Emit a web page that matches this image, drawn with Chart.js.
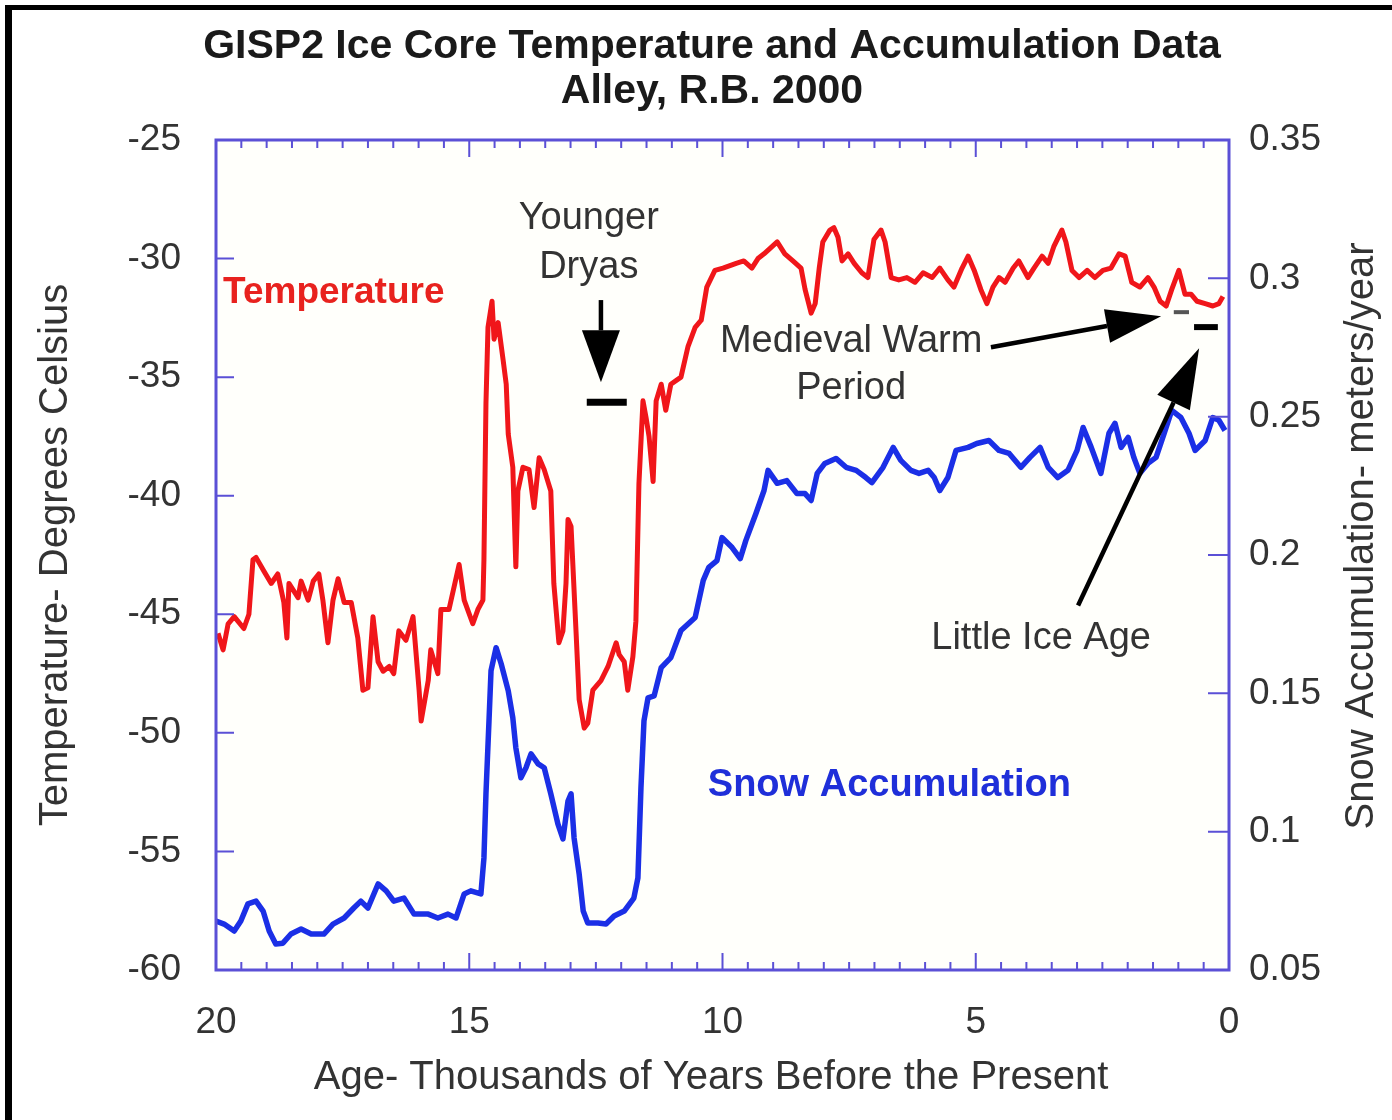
<!DOCTYPE html>
<html>
<head>
<meta charset="utf-8">
<title>GISP2 Ice Core Temperature and Accumulation Data</title>
<script src="https://cdn.jsdelivr.net/npm/chart.js@4.4.1/dist/chart.umd.min.js"></script>
<style>
  html, body { margin: 0; padding: 0; background: #fff; }
  #wrap { position: relative; width: 1392px; height: 1120px; }
</style>
</head>
<body>
<div id="wrap"><canvas id="gisp2"></canvas></div>
<script>
// --- data (age in kyr BP) ---
const titleLines = ['GISP2 Ice Core Temperature and Accumulation Data', 'Alley, R.B. 2000'];
const xTitle = 'Age- Thousands of Years Before the Present';
const yTitle = 'Temperature- Degrees Celsius';
const y1Title = 'Snow Accumulation- meters/year';

const tempAge = [19.96,19.86,19.76,19.64,19.45,19.35,19.27,19.21,19.05,18.91,
  18.78,18.66,18.60,18.56,18.38,18.32,18.18,18.08,17.97,17.89,
  17.79,17.69,17.59,17.47,17.33,17.20,17.10,17.00,16.90,16.80,
  16.70,16.58,16.49,16.39,16.25,16.11,15.99,15.95,15.81,15.76,
  15.62,15.56,15.40,15.20,15.10,14.93,14.83,14.73,14.71,14.67,
  14.63,14.55,14.51,14.43,14.33,14.27,14.23,14.14,14.08,14.04,
  13.94,13.82,13.72,13.62,13.52,13.39,13.33,13.23,13.15,13.09,
  13.05,12.99,12.89,12.83,12.73,12.66,12.56,12.40,12.26,12.10,
  12.04,11.94,11.87,11.77,11.71,11.65,11.57,11.51,11.45,11.37,
  11.31,11.21,11.12,11.02,10.82,10.68,10.54,10.42,10.31,10.15,
  9.99,9.73,9.58,9.42,9.30,9.18,8.92,8.77,8.61,8.45,
  8.37,8.25,8.17,8.09,8.02,7.88,7.80,7.72,7.64,7.52,
  7.40,7.25,7.13,7.01,6.87,6.79,6.67,6.52,6.36,6.20,
  6.04,5.86,5.71,5.55,5.43,5.27,5.15,5.03,4.90,4.78,
  4.66,4.54,4.42,4.26,4.15,3.97,3.85,3.69,3.57,3.46,
  3.30,3.22,3.10,2.96,2.80,2.65,2.49,2.33,2.17,2.05,
  1.92,1.76,1.60,1.48,1.36,1.24,1.13,0.99,0.87,0.75,
  0.63,0.47,0.32,0.20,0.12];
const tempC = [-45.8,-46.5,-45.4,-45.1,-45.6,-45.0,-42.7,-42.6,-43.2,-43.7,
  -43.3,-44.5,-46.0,-43.7,-44.3,-43.6,-44.4,-43.6,-43.3,-44.4,
  -46.2,-44.4,-43.5,-44.5,-44.5,-46.0,-48.2,-48.1,-45.1,-47.0,
  -47.4,-47.2,-47.5,-45.7,-46.1,-45.1,-48.2,-49.5,-47.8,-46.5,
  -47.5,-44.8,-44.8,-42.9,-44.4,-45.4,-44.8,-44.4,-42.7,-36.1,
  -32.9,-31.8,-33.4,-32.7,-34.3,-35.3,-37.4,-38.8,-43.0,-39.8,
  -38.8,-38.9,-40.5,-38.4,-38.9,-39.8,-43.7,-46.2,-45.7,-43.7,
  -41.0,-41.3,-45.8,-48.6,-49.8,-49.6,-48.2,-47.8,-47.2,-46.2,
  -46.7,-47.0,-48.2,-46.8,-45.3,-39.5,-36.0,-36.7,-37.5,-39.4,
  -36.0,-35.3,-36.4,-35.3,-35.0,-33.7,-32.9,-32.6,-31.2,-30.5,
  -30.4,-30.2,-30.1,-30.4,-30.0,-29.8,-29.3,-29.8,-30.1,-30.4,
  -31.3,-32.3,-31.9,-30.4,-29.3,-28.8,-28.7,-29.1,-30.1,-29.8,
  -30.2,-30.6,-30.8,-29.2,-28.8,-29.3,-30.8,-30.9,-30.8,-31.0,
  -30.6,-30.8,-30.4,-30.9,-31.2,-30.4,-29.9,-30.5,-31.3,-31.9,
  -31.2,-30.8,-31.0,-30.4,-30.1,-30.8,-30.4,-29.9,-30.2,-29.5,
  -28.8,-29.3,-30.5,-30.8,-30.5,-30.8,-30.5,-30.4,-29.8,-29.9,
  -31.0,-31.2,-30.8,-31.2,-31.8,-32.0,-31.3,-30.5,-31.5,-31.5,
  -31.8,-31.9,-32.0,-31.9,-31.6];

const accAge = [20.00,19.84,19.64,19.51,19.37,19.21,19.07,18.95,18.82,18.68,
  18.52,18.32,18.12,17.87,17.69,17.47,17.28,17.14,17.00,16.80,
  16.64,16.49,16.29,16.09,15.81,15.62,15.42,15.26,15.10,14.97,
  14.77,14.71,14.67,14.61,14.57,14.47,14.37,14.23,14.14,14.08,
  13.98,13.88,13.78,13.64,13.52,13.39,13.25,13.15,13.05,12.99,
  12.93,12.83,12.75,12.66,12.46,12.30,12.14,11.94,11.75,11.67,
  11.61,11.55,11.47,11.35,11.21,11.02,10.82,10.54,10.38,10.27,
  10.11,10.01,9.81,9.65,9.54,9.34,9.18,9.10,8.92,8.73,
  8.53,8.37,8.25,8.13,7.98,7.76,7.56,7.36,7.17,7.05,
  6.83,6.63,6.48,6.28,6.12,5.94,5.82,5.71,5.55,5.39,
  5.15,4.98,4.74,4.54,4.34,4.11,3.93,3.73,3.57,3.38,
  3.18,3.00,2.88,2.72,2.53,2.37,2.25,2.13,1.99,1.88,
  1.76,1.60,1.44,1.28,1.13,0.95,0.79,0.67,0.47,0.32,
  0.20,0.08];
const accRate = [0.0677,0.0666,0.0641,0.0677,0.0739,0.0749,0.0713,0.0641,0.0594,0.0597,
  0.0630,0.0648,0.0630,0.0630,0.0666,0.0688,0.0724,0.0749,0.0724,0.0811,
  0.0786,0.0749,0.0760,0.0702,0.0702,0.0688,0.0702,0.0688,0.0775,0.0786,
  0.0775,0.0905,0.1137,0.1401,0.1582,0.1665,0.1607,0.1509,0.1412,0.1303,
  0.1195,0.1231,0.1281,0.1245,0.1231,0.1137,0.1028,0.0974,0.1111,0.1137,
  0.0977,0.0847,0.0713,0.0670,0.0670,0.0666,0.0695,0.0713,0.0760,0.0833,
  0.1158,0.1401,0.1484,0.1491,0.1593,0.1629,0.1727,0.1774,0.1908,0.1955,
  0.1980,0.2063,0.2027,0.1987,0.2052,0.2150,0.2233,0.2306,0.2259,0.2269,
  0.2222,0.2222,0.2197,0.2295,0.2331,0.2349,0.2317,0.2306,0.2280,0.2262,
  0.2317,0.2389,0.2342,0.2306,0.2295,0.2306,0.2280,0.2233,0.2280,0.2378,
  0.2389,0.2403,0.2414,0.2378,0.2367,0.2317,0.2353,0.2389,0.2317,0.2280,
  0.2306,0.2378,0.2461,0.2389,0.2295,0.2440,0.2476,0.2389,0.2425,0.2353,
  0.2295,0.2331,0.2353,0.2440,0.2523,0.2497,0.2440,0.2378,0.2414,0.2497,
  0.2487,0.2450];

const ageTicks = [0, 5, 10, 15, 20];
const tempTicks = [-60, -55, -50, -45, -40, -35, -30, -25];
const accTicks = [0.05, 0.1, 0.15, 0.2, 0.25, 0.3, 0.35];

// --- styling ---
const FONT = '"Liberation Sans", Arial, Helvetica, sans-serif';
const TEXT = '#333';
const AXIS_BLUE = '#5b50d6';
const RED = '#f0161a';
const BLUE = '#1b2fe6';

function arrow(ctx, x0, y0, x1, y1, headLen, headW) {
  const ang = Math.atan2(y1 - y0, x1 - x0);
  const bx = x1 - headLen * Math.cos(ang), by = y1 - headLen * Math.sin(ang);
  ctx.beginPath();
  ctx.moveTo(x0, y0);
  ctx.lineTo(bx, by);
  ctx.stroke();
  const nx = -Math.sin(ang) * headW / 2, ny = Math.cos(ang) * headW / 2;
  ctx.beginPath();
  ctx.moveTo(x1, y1);
  ctx.lineTo(bx + nx, by + ny);
  ctx.lineTo(bx - nx, by - ny);
  ctx.closePath();
  ctx.fill();
}

// plot background, outer frame, inward ticks
const frameTicks = {
  id: 'frameTicks',
  beforeDraw(chart) {
    const { ctx, chartArea: a } = chart;
    ctx.save();
    ctx.fillStyle = '#fffffb';
    ctx.fillRect(a.left, a.top, a.right - a.left, a.bottom - a.top);
    ctx.fillStyle = '#000';
    ctx.fillRect(5, 5, 7, chart.height - 5);
    ctx.fillRect(5, 5, chart.width - 5, 5);
    ctx.restore();
  },
  afterDatasetsDraw(chart) {
    const { ctx, chartArea: a, scales } = chart;
    const { x, y, y1 } = scales;
    ctx.save();
    ctx.strokeStyle = AXIS_BLUE;
    ctx.lineWidth = 2;
    ctx.beginPath();
    for (let k = 1; k < 40; k++) {
      const px = x.getPixelForValue(k / 2);
      const len = k % 10 === 0 ? 17 : 8;
      ctx.moveTo(px, a.bottom); ctx.lineTo(px, a.bottom - len);
      ctx.moveTo(px, a.top); ctx.lineTo(px, a.top + len);
    }
    tempTicks.slice(1, -1).forEach(v => {
      const py = y.getPixelForValue(v);
      ctx.moveTo(a.left, py); ctx.lineTo(a.left + 18, py);
    });
    accTicks.slice(1, -1).forEach(v => {
      const py = y1.getPixelForValue(v);
      ctx.moveTo(a.right, py); ctx.lineTo(a.right - 21, py);
    });
    ctx.stroke();
    ctx.lineWidth = 3;
    ctx.strokeRect(a.left, a.top, a.right - a.left, a.bottom - a.top);
    ctx.restore();
  }
};

// labels and arrows, placed in (age, degC) units
const notes = {
  id: 'notes',
  afterDraw(chart) {
    const { ctx, scales: { x, y } } = chart;
    const X = v => x.getPixelForValue(v);
    const Y = v => y.getPixelForValue(v);
    ctx.save();
    ctx.textBaseline = 'middle';

    ctx.textAlign = 'left';
    ctx.font = 'bold 37px ' + FONT;
    ctx.fillStyle = '#e8221e';
    ctx.fillText('Temperature', X(19.86), Y(-31.46));
    ctx.font = 'bold 38px ' + FONT;
    ctx.fillStyle = '#1f2fd9';
    ctx.fillText('Snow Accumulation', X(10.29), Y(-52.23));

    ctx.font = '38px ' + FONT;
    ctx.textAlign = 'center';
    ctx.fillStyle = TEXT;
    ctx.fillText('Younger', X(12.64), Y(-28.33));
    ctx.fillText('Dryas', X(12.64), Y(-30.36));
    ctx.fillText('Medieval Warm', X(7.46), Y(-33.48));
    ctx.fillText('Period', X(7.46), Y(-35.47));
    ctx.fillText('Little Ice Age', X(3.71), Y(-46.02));

    ctx.strokeStyle = '#000';
    ctx.fillStyle = '#000';
    ctx.lineWidth = 4.5;
    arrow(ctx, X(12.40), Y(-31.75), X(12.40), Y(-35.22), 52, 38);
    arrow(ctx, X(4.70), Y(-33.74), X(1.34), Y(-32.43), 55, 34);
    arrow(ctx, X(2.98), Y(-44.63), X(0.59), Y(-33.78), 60, 36);

    ctx.lineWidth = 7;
    ctx.beginPath();
    ctx.moveTo(X(12.68), Y(-36.06)); ctx.lineTo(X(11.89), Y(-36.06));
    ctx.stroke();
    ctx.lineWidth = 6;
    ctx.beginPath();
    ctx.moveTo(X(0.69), Y(-32.89)); ctx.lineTo(X(0.22), Y(-32.89));
    ctx.stroke();
    ctx.strokeStyle = '#555';
    ctx.lineWidth = 4;
    ctx.beginPath();
    ctx.moveTo(X(1.09), Y(-32.26)); ctx.lineTo(X(0.79), Y(-32.26));
    ctx.stroke();

    // axis titles: x centred like the original, right one reads bottom-to-top
    ctx.fillStyle = TEXT;
    ctx.font = '40px ' + FONT;
    ctx.fillText(xTitle, 711, 1078);
    ctx.translate(1362, 536);
    ctx.rotate(-Math.PI / 2);
    ctx.fillText(y1Title, 0, 0);
    ctx.restore();
  }
};

const tickFont = { family: FONT, size: 37 };

new Chart(document.getElementById('gisp2'), {
  type: 'line',
  data: {
    datasets: [
      {
        label: 'Temperature',
        data: tempAge.map((a, i) => ({ x: a, y: tempC[i] })),
        yAxisID: 'y',
        borderColor: RED,
        borderWidth: 5,
        borderJoinStyle: 'round',
        pointRadius: 0,
        tension: 0
      },
      {
        label: 'Snow Accumulation',
        data: accAge.map((a, i) => ({ x: a, y: accRate[i] })),
        yAxisID: 'y1',
        borderColor: BLUE,
        borderWidth: 5.5,
        borderJoinStyle: 'round',
        pointRadius: 0,
        tension: 0
      }
    ]
  },
  options: {
    responsive: true,
    maintainAspectRatio: false,
    animation: false,
    layout: { padding: { left: 32, right: 0, top: 0, bottom: 0 } },
    plugins: {
      legend: { display: false },
      tooltip: { enabled: false },
      title: {
        display: true,
        text: titleLines,
        color: '#1a1a1a',
        font: { family: FONT, size: 41, weight: 'bold', lineHeight: 45 / 41 },
        padding: { top: 24.5, bottom: 25.5 }
      }
    },
    scales: {
      x: {
        type: 'linear',
        reverse: true,
        min: 0,
        max: 20,
        border: { display: false },
        grid: { display: false },
        afterBuildTicks: s => { s.ticks = ageTicks.map(v => ({ value: v })); },
        ticks: { color: TEXT, font: tickFont, padding: 23, maxRotation: 0, callback: v => String(v) },
        afterFit: s => { s.height = 150; }
      },
      y: {
        type: 'linear',
        position: 'left',
        min: -60,
        max: -25,
        border: { display: false },
        grid: { display: false },
        afterBuildTicks: s => { s.ticks = tempTicks.map(v => ({ value: v })); },
        ticks: { color: TEXT, font: tickFont, padding: 27, callback: v => String(v) },
        title: { display: true, text: yTitle, color: TEXT, font: { family: FONT, size: 40 }, padding: { top: 0, bottom: 0 } },
        afterFit: s => { s.width = 184; }
      },
      y1: {
        type: 'linear',
        position: 'right',
        min: 0.05,
        max: 0.35,
        border: { display: false },
        grid: { display: false },
        afterBuildTicks: s => { s.ticks = accTicks.map(v => ({ value: v })); },
        ticks: { color: TEXT, font: tickFont, padding: 12, callback: v => String(Math.round(v * 100) / 100) },
        afterFit: s => { s.width = 163; }
      }
    }
  },
  plugins: [frameTicks, notes]
});
</script>
</body>
</html>
